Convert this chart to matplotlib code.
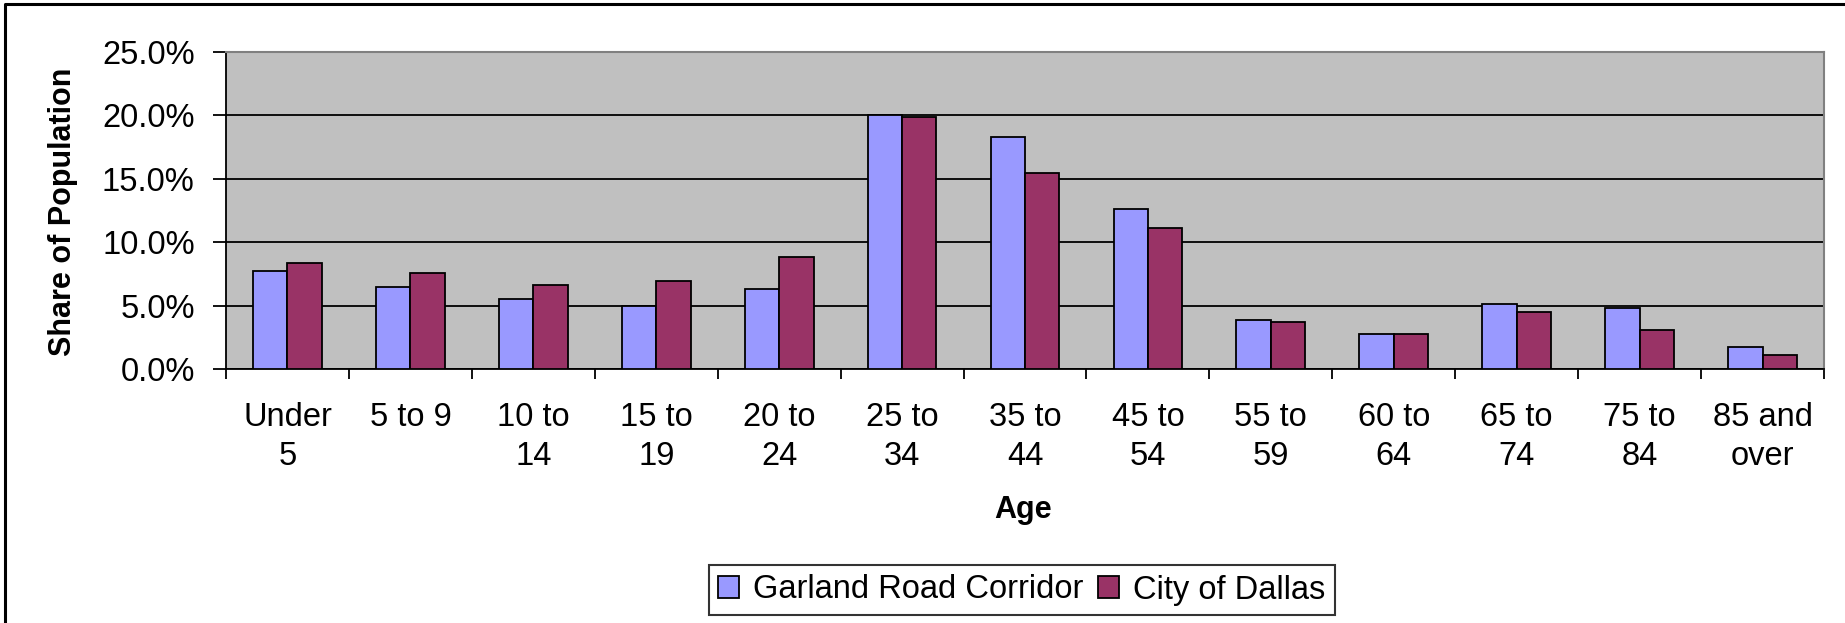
import numpy as np
import matplotlib
matplotlib.use("Agg")
import matplotlib.pyplot as plt
from matplotlib.ticker import FixedLocator, PercentFormatter
from matplotlib.lines import Line2D

plt.rcParams['font.family'] = ['Liberation Sans', 'DejaVu Sans']

age_groups = ["Under\n5", "5 to 9", "10 to\n14", "15 to\n19", "20 to\n24", "25 to\n34",
              "35 to\n44", "45 to\n54", "55 to\n59", "60 to\n64", "65 to\n74", "75 to\n84",
              "85 and\nover"]
garland = [7.74, 6.47, 5.50, 4.98, 6.29, 20.0, 18.26, 12.58, 3.84, 2.74, 5.13, 4.82, 1.76]
dallas = [8.37, 7.58, 6.61, 6.95, 8.87, 19.87, 15.47, 11.10, 3.68, 2.74, 4.50, 3.05, 1.13]
series_names = ["Garland Road Corridor", "City of Dallas"]
colors = ["#9999FF", "#993366"]

W, H = 1845, 623
fs = 23.5
fig = plt.figure(figsize=(W / 100, H / 100), dpi=100)
ax = fig.add_axes([226 / W, 1 - 369 / H, (1824 - 226) / W, (369 - 52) / H])

x = np.arange(len(age_groups))
bw = 0.28
ax.bar(x - bw / 2, garland, bw, color=colors[0], edgecolor="black", linewidth=1.3,
       label=series_names[0], zorder=3)
ax.bar(x + bw / 2, dallas, bw, color=colors[1], edgecolor="black", linewidth=1.3,
       label=series_names[1], zorder=3)

ax.set_facecolor("#C0C0C0")
ax.set_xlim(-0.5, len(age_groups) - 0.5)
ax.set_ylim(0, 25)
ax.set_axisbelow(True)
ax.yaxis.grid(True, color="black", linewidth=1.3)

ax.yaxis.set_major_locator(FixedLocator([0, 5, 10, 15, 20, 25]))
ax.yaxis.set_major_formatter(PercentFormatter(decimals=1))
ax.tick_params(axis="y", direction="out", length=9.5, width=1.3, pad=13,
               labelsize=fs, color="black")

# ticks on category boundaries, labels centred under each category
ax.xaxis.set_major_locator(FixedLocator(np.arange(len(age_groups) + 1) - 0.5))
ax.set_xticklabels([])
ax.set_xticks(x, minor=True)
ax.set_xticklabels(age_groups, minor=True, fontsize=fs, linespacing=1.3)
ax.tick_params(axis="x", which="major", direction="out", length=7.5, width=1.3)
ax.tick_params(axis="x", which="minor", length=0, pad=24)

for side in ["left", "bottom"]:
    ax.spines[side].set_color("black")
    ax.spines[side].set_linewidth(1.3)
for side in ["top", "right"]:
    ax.spines[side].set_color("#808080")
    ax.spines[side].set_linewidth(1.5)

fig.text(63 / W, 1 - 212 / H, "Share of Population", rotation=90, fontsize=22,
         fontweight="bold", ha="center", va="center")
fig.text(1023 / W, 1 - 510 / H, "Age", fontsize=22, fontweight="bold",
         ha="center", va="center")

leg = fig.legend(loc="center", bbox_to_anchor=(1022 / W, 1 - 590 / H), ncol=2,
                 fontsize=fs, frameon=True, fancybox=False, handlelength=0.62,
                 handleheight=0.62, handletextpad=0.45, columnspacing=0.45,
                 borderpad=0.3, borderaxespad=0)
leg.get_frame().set_edgecolor("black")
leg.get_frame().set_linewidth(1.5)

# outer frame: only the left and top edges show in the cropped original
fig.add_artist(Line2D([5 / W, 5 / W, 1], [0, 1 - 4 / H, 1 - 4 / H],
                      transform=fig.transFigure, color="black", linewidth=2.2))

fig.savefig("out.png", dpi=100)
